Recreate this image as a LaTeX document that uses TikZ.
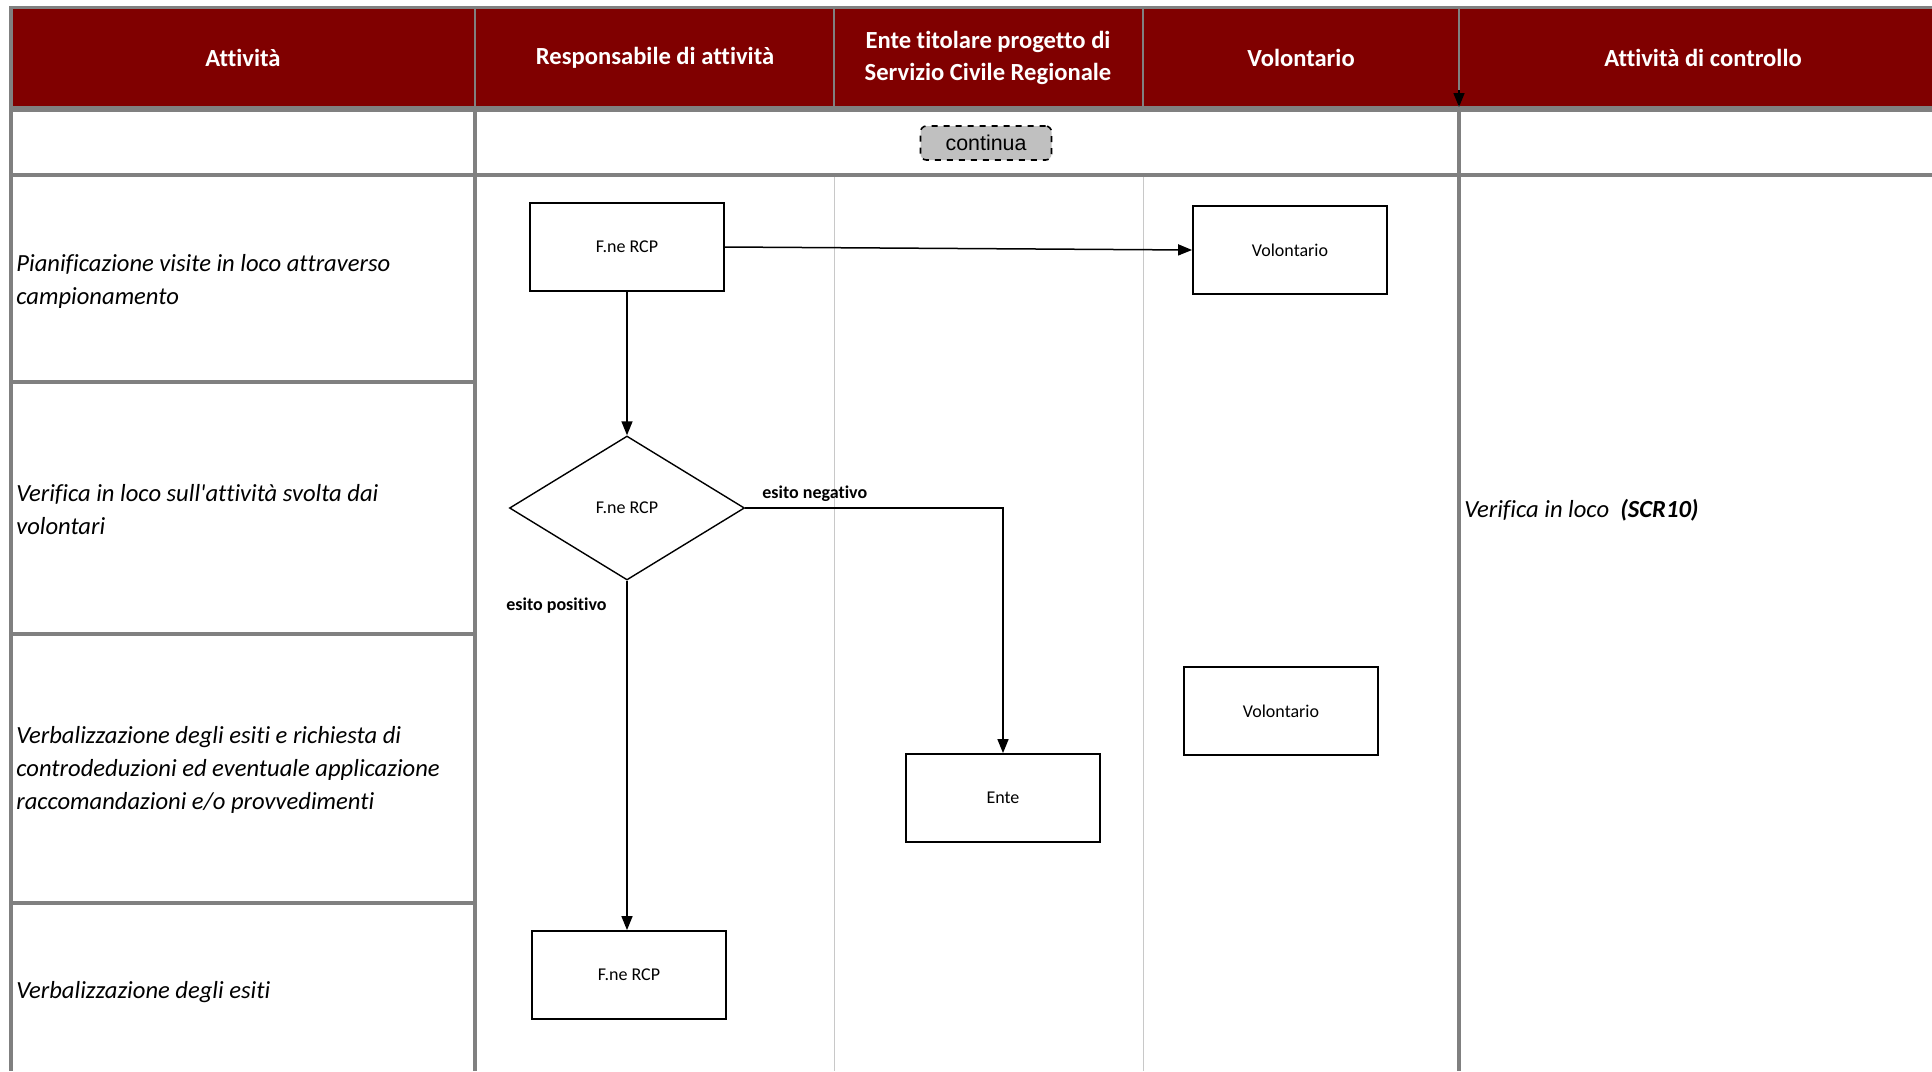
\documentclass[tikz,border=0pt]{standalone}
\usepackage{fontspec}
\setmainfont{Carlito}[Ligatures=NoCommon]
\newfontfamily\arialfont{Liberation Sans}
\usetikzlibrary{shapes.geometric,arrows.meta}
\definecolor{headred}{HTML}{800000}
\definecolor{gridgray}{HTML}{808080}
\definecolor{lanegray}{HTML}{C8C8C8}
\definecolor{contgray}{HTML}{C0C0C0}

\begin{document}
\begin{tikzpicture}[x=0.5pt, y=-0.5pt,
  head/.style={text=white, font=\fontsize{12.3}{16}\selectfont\bfseries, align=center},
  act/.style={anchor=west, inner sep=0pt, align=left, font=\fontsize{12.3}{16.5}\selectfont\itshape},
  box/.style={draw, line width=0.9pt, minimum width=97pt, minimum height=44pt, inner sep=0pt, font=\fontsize{9}{11}\selectfont},
  cond/.style={draw, diamond, line width=0.7pt, minimum width=117.5pt, minimum height=72pt, inner sep=0pt, font=\fontsize{9}{11}\selectfont},
  flow/.style={-{Triangle[length=7pt,width=5.5pt]}, line width=0.75pt},
  lbl/.style={anchor=west, inner sep=0pt, font=\fontsize{9}{11}\selectfont\bfseries},
  rule/.style={gridgray, line width=2pt},
  lane/.style={lanegray, line width=0.5pt}]
\useasboundingbox (0,0) rectangle (1932,1071);
% header
\fill[headred] (11,9) rectangle (1932,106);
\draw[rule, line width=1.5pt] (11,7) -- (1932,7);
\foreach \x in {475,834,1143,1459}
  \draw[gridgray, line width=1pt] (\x,8) -- (\x,106);
\draw[rule, line width=3pt] (11,109) -- (1932,109);
\draw[rule] (11,175) -- (1932,175);
% lanes and rows
\foreach \x in {834,1143}
  \draw[lane] (\x,177) -- (\x,1071);
\draw[rule] (11,6) -- (11,1071);
\foreach \x in {475,1459}
  \draw[rule] (\x,106) -- (\x,1071);
\foreach \y in {382,634,903}
  \draw[rule] (11,\y) -- (475,\y);

\node[head] (hAtt) at (243,58) {Attività};
\node[head] (hResp) at (655,58) {Responsabile di attività};
\node[head] (hEnte) at (988,58) {Ente titolare progetto di\\Servizio Civile Regionale};
\node[head] (hVol) at (1301,58) {Volontario};
\node[head] (hCtrl) at (1703,58) {Attività di controllo};

\node[draw, dashed, line width=0.8pt, rounded corners=3pt, fill=contgray, minimum width=65.5pt, minimum height=17pt, inner sep=0pt, font=\arialfont\fontsize{10.7}{12}\selectfont] (cont) at (986,143) {continua};

% activities
\node[act] (att1) at (16,281) {Pianificazione visite in loco attraverso\\campionamento};
\node[act] (att2) at (16,510) {Verifica in loco sull\textquotesingle attività svolta dai\\volontari};
\node[act] (att3) at (16,770) {Verbalizzazione degli esiti e richiesta di\\controdeduzioni ed eventuale applicazione\\raccomandazioni e/o provvedimenti};
\node[act] (att4) at (16,992) {Verbalizzazione degli esiti};
\node[act] (ctrl) at (1464,510) {Verifica in loco\ \ \textbf{(SCR10)}};

% flow
\node[box] (rcp1) at (627,247) {F.ne RCP};
\node[box] (vol1) at (1290,250) {Volontario};
\node[cond] (chk) at (627,508) {F.ne RCP};
\node[box] (ente) at (1003,798) {Ente};
\node[box] (vol2) at (1281,711) {Volontario};
\node[box] (rcp2) at (629,975) {F.ne RCP};

\draw[flow] (rcp1.east) -- (vol1.west);
\draw[flow] (rcp1.south) -- (chk.north);
\draw[flow] (chk.east) -| (ente.north);
\draw[flow] (chk.south) -- (chk.south |- rcp2.north);
\node[lbl] (neg) at (762,494) {esito negativo};
\node[lbl] (pos) at (506,606) {esito positivo};

\coordinate (hx1) at (1459,90);
\coordinate (hx2) at (1459,107);
\draw[flow] (hx1) -- (hx2);
\end{tikzpicture}
\end{document}
